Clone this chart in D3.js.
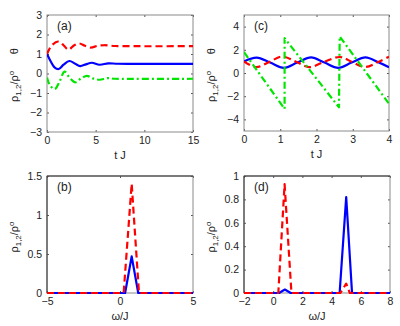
<!DOCTYPE html>
<html>
<head>
<meta charset="utf-8"/>
<script src="https://cdn.jsdelivr.net/npm/d3@7"></script>
<style>
  body { margin: 0; background: #fff; }
  text { font-family: "Liberation Sans", Arial, sans-serif; fill: #222; }
</style>
</head>
<body>
<script>
// panel (a): t J vs rho / theta, damped
var aBlue = [[0,1.0],[0.4,0.6],[0.8,0.3],[1.2,0.23],[1.7,0.45],[2.3,0.64],[2.9,0.5],[3.4,0.38],[4.0,0.47],[4.6,0.55],[5.4,0.45],[6.3,0.52],[7.2,0.5],[9,0.49],[12,0.49],[15,0.49]];
var aRed = [[0,1.0],[0.5,1.45],[1.2,1.64],[1.7,1.45],[2.2,1.22],[2.8,1.45],[3.3,1.54],[3.9,1.42],[4.5,1.33],[5.2,1.42],[5.9,1.45],[7,1.41],[9,1.4],[15,1.4]];
var aGreen = [[0,-0.2],[0.3,-0.6],[0.8,-0.8],[1.3,-0.4],[1.8,0.1],[2.3,-0.2],[2.9,-0.45],[3.5,-0.25],[4.1,-0.12],[4.7,-0.25],[5.4,-0.32],[6.2,-0.24],[7,-0.27],[15,-0.27]];

// panel (c): oscillating
var cBlue = [[0,1.0],[0.35,1.33],[0.72,0.9],[1.1,0.45],[1.47,0.9],[1.85,1.35],[2.22,0.9],[2.6,0.45],[2.97,0.9],[3.35,1.35],[3.72,0.9],[4,0.5]];
var cRed = [[0,1.0],[0.33,0.5],[0.7,0.95],[1.05,1.42],[1.45,0.95],[1.8,0.5],[2.2,0.95],[2.65,1.38],[2.98,0.95],[3.34,0.52],[3.7,0.95],[4,1.4]];
var cGreen = [[0,1.8],[1.12,-3.1],[1.12,3.0],[2.62,-2.95],[2.64,3.15],[4,-2.65]];

// panel (b): spectrum
var bBlue = [[-5,0],[0.35,0],[0.8,0.47],[1.25,0],[5,0]];
var bRed = [[-5,0],[0.25,0],[0.8,1.4],[1.3,0],[5,0]];

// panel (d): spectrum
var dBlue = [[-2,0],[0.4,0],[0.8,0.03],[1.2,0],[4.55,0],[5.0,0.82],[5.4,0],[8,0]];
var dRed = [[-2,0],[0.35,0],[0.78,0.93],[1.25,0],[4.6,0],[5.0,0.08],[5.25,0],[8,0]];

var ticksA = {x: [0,5,10,15], y: [-3,-2,-1,0,1,2,3]};
var ticksC = {x: [0,1,2,3,4], y: [-4,-2,0,2,4]};
var ticksB = {x: [-5,0,5], y: [0,0.5,1,1.5]};
var ticksD = {x: [-2,0,2,4,6,8], y: [0,0.2,0.4,0.6,0.8,1]};

var BLUE = "#0000ff", RED = "#ff0000", GREEN = "#00e600";

var svg = d3.select("body").append("svg")
    .attr("width", 400).attr("height", 326);

function panel(o) {
    var x = d3.scaleLinear().domain(o.xd).range([o.l, o.r]);
    var y = d3.scaleLinear().domain(o.yd).range([o.b, o.t]);
    var g = svg.append("g");

    // ticks (inward) and labels
    var xa = d3.axisBottom(x).tickValues(o.ticks.x).tickSize(-2).tickPadding(5).tickFormat(d3.format("~g"));
    var ya = d3.axisLeft(y).tickValues(o.ticks.y).tickSize(-2).tickPadding(5).tickFormat(d3.format("~g"));
    g.append("g").attr("transform", "translate(0," + o.b + ")").call(xa);
    g.append("g").attr("transform", "translate(" + o.l + ",0)").call(ya);
    g.append("g").attr("transform", "translate(0," + o.t + ")")
        .call(d3.axisTop(x).tickValues(o.ticks.x).tickSize(-2).tickFormat(""));
    g.append("g").attr("transform", "translate(" + o.r + ",0)")
        .call(d3.axisRight(y).tickValues(o.ticks.y).tickSize(-2).tickFormat(""));
    g.selectAll(".domain").remove();
    g.selectAll(".tick line").attr("stroke", "#555");
    g.selectAll(".tick text").style("font-size", "10.5px").attr("fill", "#222")
        .style("font-family", "'Liberation Sans', Arial, sans-serif");

    g.append("rect").attr("x", o.l).attr("y", o.t)
        .attr("width", o.r - o.l).attr("height", o.b - o.t)
        .attr("fill", "none").attr("stroke", "#8a8a8a").attr("stroke-width", 1);
    if (o.dark) {
        // top and left edges look darker in the lower panels
        g.append("path")
            .attr("d", "M" + o.l + "," + o.b + "V" + o.t + "H" + o.r)
            .attr("fill", "none").attr("stroke", "#333").attr("stroke-width", 1);
    }

    var clipId = "clip" + o.name;
    svg.append("clipPath").attr("id", clipId).append("rect")
        .attr("x", o.l).attr("y", o.t - 2).attr("width", o.r - o.l).attr("height", o.b - o.t + 4);
    var pg = g.append("g").attr("clip-path", "url(#" + clipId + ")");

    o.series.forEach(function (s) {
        var line = d3.line().x(function (d) { return x(d[0]); }).y(function (d) { return y(d[1]); })
            .curve(s.curve || d3.curveLinear);
        pg.append("path").datum(s.data).attr("d", line)
            .attr("fill", "none").attr("stroke", s.color).attr("stroke-width", 2.2)
            .attr("stroke-dasharray", s.dash || null)
            .attr("stroke-linejoin", "round");
    });

    g.append("text").attr("x", o.l + 10).attr("y", o.t + 15)
        .style("font-size", "12px").text("(" + o.name + ")");

    g.append("text").attr("x", (o.l + o.r) / 2).attr("y", o.b + 27)
        .attr("text-anchor", "middle").style("font-size", "11px").text(o.xlabel);

    var yl = g.append("text")
        .attr("transform", "translate(" + (o.l - 29) + "," + o.ylabY + ") rotate(-90)")
        .attr("text-anchor", "middle").style("font-size", "11px");
    yl.append("tspan").text("ρ");
    yl.append("tspan").attr("dy", 3).style("font-size", "8px").text("1,2");
    yl.append("tspan").attr("dy", -3).text("/ρ");
    yl.append("tspan").attr("dy", -4).style("font-size", "8px").text("o");
    if (o.theta) {
        yl.append("tspan").attr("dy", 4).text("\u2003\u2002θ");
    }
}

var smooth = d3.curveCatmullRom;

panel({name: "a", l: 47, r: 193, t: 15, b: 132, xd: [0, 15], yd: [-3, 3], ticks: ticksA,
    xlabel: "t J", theta: true, ylabY: 75,
    series: [
        {data: aBlue, color: BLUE, curve: smooth},
        {data: aRed, color: RED, curve: smooth, dash: "7,4"},
        {data: aGreen, color: GREEN, curve: smooth, dash: "7,3,2,3"}
    ]});

panel({name: "c", l: 244, r: 389, t: 15, b: 131, xd: [0, 4], yd: [-5, 5], ticks: ticksC,
    xlabel: "t J", theta: true, ylabY: 75,
    series: [
        {data: cBlue, color: BLUE, curve: smooth},
        {data: cRed, color: RED, curve: smooth, dash: "7,4"},
        {data: cGreen, color: GREEN, dash: "7,3,2,3"}
    ]});

panel({name: "b", l: 47, r: 193, t: 176, b: 293, xd: [-5, 5], yd: [0, 1.5], ticks: ticksB,
    xlabel: "ω/J", theta: false, ylabY: 237, dark: true,
    series: [
        {data: bBlue, color: BLUE},
        {data: bRed, color: RED, dash: "7,4"}
    ]});

panel({name: "d", l: 244, r: 390, t: 176, b: 293, xd: [-2, 8], yd: [0, 1], ticks: ticksD,
    xlabel: "ω/J", theta: false, ylabY: 237, dark: true,
    series: [
        {data: dBlue, color: BLUE},
        {data: dRed, color: RED, dash: "7,4"}
    ]});
</script>
</body>
</html>
